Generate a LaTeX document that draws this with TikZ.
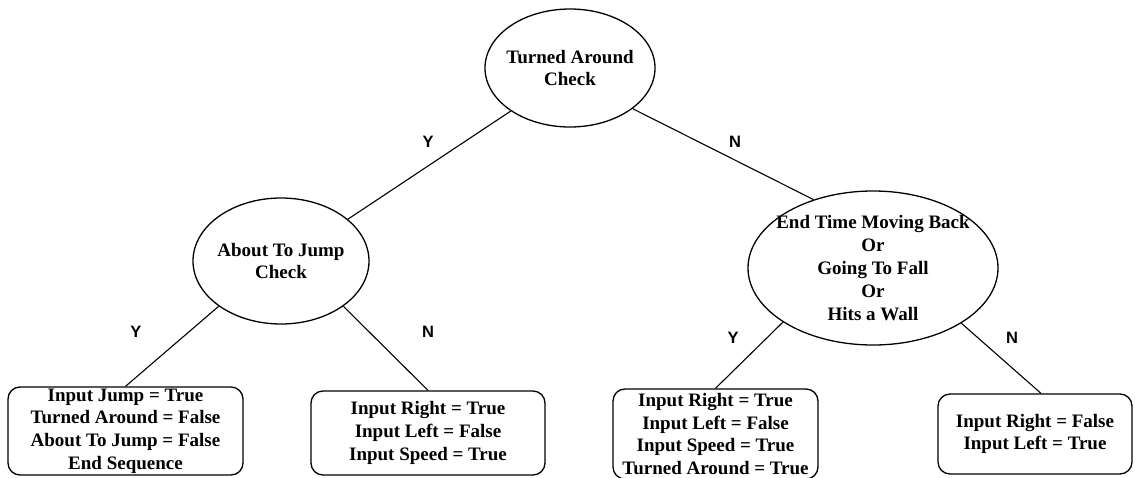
\documentclass[tikz,border=0pt]{standalone}
\usepackage{fontspec}
\setmainfont{Liberation Serif}
\newfontfamily\answerfont{Liberation Sans}
\usetikzlibrary{shapes.geometric}

\begin{document}
\begin{tikzpicture}[x=1pt,y=-1pt,
  textfont/.style={font=\bfseries\fontsize{19}{22.8}\selectfont},
  decision/.style={ellipse,draw,line width=1.3pt,inner sep=-20pt,align=center,textfont},
  outcome/.style={draw,rounded corners=12pt,line width=1.3pt,inner sep=0pt,align=center,textfont},
  branch/.style={line width=1.1pt},
  answer/.style={font=\answerfont\bfseries\fontsize{16.5}{19}\selectfont}]

\useasboundingbox (0,0) rectangle (1135,477);

% decision nodes
\node[decision,minimum width=170pt,minimum height=118pt] (turned) at (570,68) {Turned Around\\Check};
\node[decision,minimum width=176pt,minimum height=126pt] (jump) at (281,261) {About To Jump\\Check};
\node[decision,minimum width=250pt,minimum height=154pt] (fall) at (873,268)
  {End Time Moving Back\\Or\\Going To Fall\\Or\\Hits a Wall};

% outcome boxes
\node[outcome,minimum width=235pt,minimum height=88pt] (jumpyes) at (125.5,431)
  {Input Jump = True\\Turned Around = False\\About To Jump = False\\End Sequence};
\node[outcome,minimum width=234pt,minimum height=84pt] (jumpno) at (428,433)
  {Input Right = True\\Input Left = False\\Input Speed = True};
\node[outcome,minimum width=205pt,minimum height=90pt] (fallyes) at (715.5,434)
  {Input Right = True\\Input Left = False\\Input Speed = True\\Turned Around = True};
\node[outcome,minimum width=194pt,minimum height=80pt] (fallno) at (1035,434)
  {Input Right = False\\Input Left = True};

% branches
\draw[branch] (turned.216) -- (jump.32.5);
\draw[branch] (turned.327) -- (fall.131);
\draw[branch] (jump.216) -- (jumpyes.north);
\draw[branch] (jump.324) -- (jumpno.north);
\draw[branch] (fall.211.4) -- (fallyes.north);
\draw[branch] (fall.328) -- ([xshift=6pt]fallno.north);

% branch answers
\node[answer] (ty) at (428,142) {Y};
\node[answer] (tn) at (735,142) {N};
\node[answer] (jy) at (136,332) {Y};
\node[answer] (jn) at (428,332) {N};
\node[answer] (fy) at (733,338) {Y};
\node[answer] (fn) at (1012,338) {N};
\end{tikzpicture}
\end{document}
